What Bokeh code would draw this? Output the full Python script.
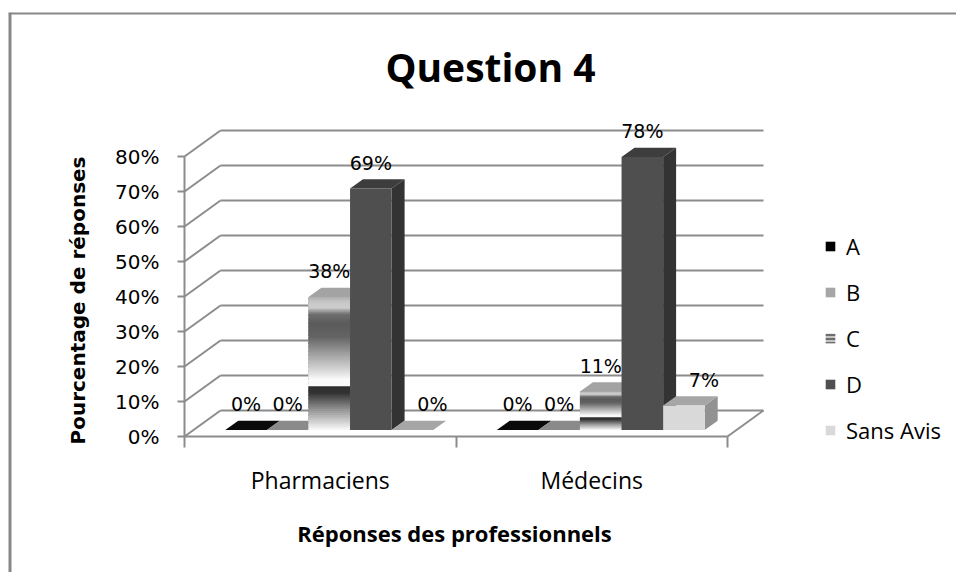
import math
import numpy as np
from bokeh.plotting import figure
from bokeh.models import FixedTicker, Legend, LegendItem, Range1d, Span
from bokeh.core.properties import value
from bokeh.embed import file_html
from bokeh.resources import INLINE

# ---------------- data ----------------
categories = ["Pharmaciens", "Médecins"]
series_names = ["A", "B", "C", "D", "Sans Avis"]
values_A = [0, 0]
values_B = [0, 0]
values_C = [38, 11]
values_D = [69, 78]
values_SA = [0, 7]
y_ticks = [0, 10, 20, 30, 40, 50, 60, 70, 80]
y_tick_labels = ["0%", "10%", "20%", "30%", "40%", "50%", "60%", "70%", "80%"]
title_text = "Question 4"
x_title = "Réponses des professionnels"
y_title = "Pourcentage de réponses"

series_values = [values_A, values_B, values_C, values_D, values_SA]

# ---------------- layout (page pixels) ----------------
W, H = 952, 560
PAGE_X0, PAGE_Y0 = 8, 12        # figure position on the page
X0_PX, Y0_PX = 184, 436         # page position of the axes origin
PX_X, PX_Y = 271.5, 3.5         # px per category unit / per percent


def ux(px):
    return (px - X0_PX) / PX_X


def uy(py):
    return (Y0_PX - py) / PX_Y


x_start, x_end = ux(PAGE_X0), ux(PAGE_X0 + W)
y_start, y_end = uy(PAGE_Y0 + H), uy(PAGE_Y0)

DX = 36 / PX_X        # depth offset of walls (x units)
DY = 26 / PX_Y        # depth offset of walls (y units)
F0, F1 = 0.25, 0.61   # bar front/back depth fractions
GAP = 0.117
BW = (1 - 2 * GAP) / len(series_names)
LABEL_OFF = 26 / PX_Y
SA_LABEL_SHIFT = 20 / PX_X
GRID = "#8c8c8c"
BORDER = "#878787"

front_colors = ["#000000", "#a6a6a6", "#c4c4c4", "#4f4f4f", "#d9d9d9"]
top_colors = ["#0a0a0a", "#8a8a8a", "#a3a3a3", "#3d3d3d", "#a6a6a6"]
side_colors = ["#000000", "#7a7a7a", "#808080", "#333333", "#929292"]

# chrome-like gradient of series C (fraction from top, grey level)
grad_pos = [0.0, 0.04, 0.08, 0.13, 0.20, 0.30, 0.45, 0.55, 0.62, 0.665, 0.67, 0.72, 0.85, 1.0]
grad_lvl = [175, 200, 205, 110, 90, 100, 170, 215, 250, 250, 45, 50, 150, 250]

p = figure(width=W, height=H, output_backend="svg", toolbar_location=None,
           x_range=Range1d(x_start, x_end), y_range=Range1d(y_start, y_end),
           min_border=0)
p.margin = (PAGE_Y0, 0, 0, PAGE_X0)
p.title.text = ""
p.title.visible = False
p.xgrid.visible = False
p.ygrid.visible = False
p.outline_line_color = None
p.background_fill_color = "white"
p.border_fill_color = "white"

# chart-area border (top and left edges visible as in the original)
p.add_layout(Span(location=y_end, dimension="width", line_color=BORDER, line_width=4))
p.add_layout(Span(location=x_start, dimension="height", line_color=BORDER, line_width=6))

# ---- walls / gridlines ----
n = len(categories)
back_y = [t + DY for t in y_ticks]
p.segment(x0=[DX] * len(y_ticks), y0=back_y, x1=[n + DX] * len(y_ticks), y1=back_y,
          line_color=GRID, line_width=2)
p.segment(x0=[0] * len(y_ticks), y0=y_ticks, x1=[DX] * len(y_ticks), y1=back_y,
          line_color=GRID, line_width=2)
p.segment(x0=[n], y0=[0], x1=[n + DX], y1=[DY], line_color=GRID, line_width=2)

# ---- bars ----
legend_renderers = []
for i, (name, vals) in enumerate(zip(series_names, series_values)):
    x0s = [j + GAP + i * BW for j in range(n)]
    x1s = [x + BW for x in x0s]
    sx, sy, tx, ty = [], [], [], []
    for x0, x1, v in zip(x0s, x1s, vals):
        sx.append([x1 + F0 * DX, x1 + F1 * DX, x1 + F1 * DX, x1 + F0 * DX])
        sy.append([F0 * DY, F1 * DY, v + F1 * DY, v + F0 * DY])
        tx.append([x0 + F0 * DX, x1 + F0 * DX, x1 + F1 * DX, x0 + F1 * DX])
        ty.append([v + F0 * DY, v + F0 * DY, v + F1 * DY, v + F1 * DY])
    p.patches(xs=sx, ys=sy, fill_color=side_colors[i], line_color=None)
    p.patches(xs=tx, ys=ty, fill_color=top_colors[i], line_color=None)
    left = [x + F0 * DX for x in x0s]
    right = [x + F0 * DX for x in x1s]
    bottom = [F0 * DY] * n
    top = [v + F0 * DY for v in vals]
    if name == "C":
        # legend swatch (striped), hidden beneath the gradient bands
        rl = p.quad(left=left, right=right, bottom=bottom, top=top, fill_color=front_colors[i],
                    hatch_pattern="horizontal_line", hatch_color="#505050",
                    hatch_scale=4, hatch_weight=1.5, line_color=None)
        bl, br, bb, bt, bc = [], [], [], [], []
        nb = 70
        for l, r, b, t in zip(left, right, bottom, top):
            h = t - b
            for k in range(nb):
                fa, fb = k / nb, (k + 1) / nb
                lvl = int(round(np.interp((fa + fb) / 2, grad_pos, grad_lvl)))
                bl.append(l); br.append(r)
                bt.append(t - fa * h)
                bb.append(max(b, t - fb * h - 0.3))
                bc.append("#%02x%02x%02x" % (lvl, lvl, lvl))
        p.quad(left=bl, right=br, bottom=bb, top=bt, fill_color=bc, line_color=None)
    else:
        rl = p.quad(left=left, right=right, bottom=bottom, top=top,
                    fill_color=front_colors[i], line_color=None)
    legend_renderers.append(rl)

# ---- data labels ----
lx, ly, lt = [], [], []
for i, (name, vals) in enumerate(zip(series_names, series_values)):
    for j, v in enumerate(vals):
        cx = j + GAP + i * BW + BW / 2 + F0 * DX
        if name == "Sans Avis":
            cx += SA_LABEL_SHIFT
        lx.append(cx)
        ly.append(v + F0 * DY + LABEL_OFF)
        lt.append(f"{v}%")
p.text(x=lx, y=ly, text=lt, text_font=value("DejaVu Sans"), text_font_size="19px",
       text_align="center", text_baseline="middle", text_color="#000000")

# ---- titles ----
p.text(x=[ux(490)], y=[uy(66)], text=[title_text], text_font=value("Open Sans"),
       text_font_style="bold", text_font_size="39px", text_align="center",
       text_baseline="middle", text_color="#000000")
p.text(x=[ux(77)], y=[uy(300)], text=[y_title], angle=math.pi / 2,
       text_font=value("DejaVu Sans"), text_font_style="bold", text_font_size="20px",
       text_align="center", text_baseline="middle", text_color="#000000")
p.text(x=[ux(454)], y=[uy(532)], text=[x_title], text_font=value("Open Sans"),
       text_font_style="bold", text_font_size="22px", text_align="center",
       text_baseline="middle", text_color="#000000")

# ---- axes (drawn at the data origin) ----
yax = p.yaxis[0]
yax.fixed_location = 0
yax.ticker = FixedTicker(ticks=y_ticks)
yax.major_label_overrides = {t: l for t, l in zip(y_ticks, y_tick_labels)}
yax.bounds = (y_ticks[0], y_ticks[-1])
yax.axis_line_color = GRID
yax.axis_line_width = 2
yax.major_tick_line_color = GRID
yax.major_tick_line_width = 2
yax.major_tick_out = 7
yax.major_tick_in = 0
yax.minor_tick_line_color = None
yax.major_label_standoff = 18
yax.major_label_text_font = "DejaVu Sans"
yax.major_label_text_font_size = "20px"
yax.major_label_text_color = "#000000"

xax = p.xaxis[0]
xax.fixed_location = 0
xax.ticker = FixedTicker(ticks=[j + 0.5 for j in range(n)], minor_ticks=list(range(n + 1)))
xax.major_label_overrides = {j + 0.5: c for j, c in enumerate(categories)}
xax.bounds = (0, n)
xax.axis_line_color = GRID
xax.axis_line_width = 2
xax.major_tick_line_color = None
xax.major_tick_out = 0
xax.major_tick_in = 0
xax.minor_tick_line_color = GRID
xax.minor_tick_line_width = 2
xax.minor_tick_out = 11
xax.minor_tick_in = 0
xax.major_label_standoff = 16
xax.major_label_text_font = "Open Sans"
xax.major_label_text_font_size = "23px"
xax.major_label_text_color = "#000000"

# ---- legend ----
legend = Legend(items=[LegendItem(label=nm, renderers=[r]) for nm, r in zip(series_names, legend_renderers)],
                location=(824 - PAGE_X0, PAGE_Y0 + H - 445), orientation="vertical",
                glyph_width=12, glyph_height=12, label_standoff=10, spacing=16,
                label_height=30, padding=0, margin=0,
                border_line_color=None, background_fill_alpha=0,
                label_text_font="Open Sans", label_text_font_size="22px", label_text_color="#000000")
p.add_layout(legend)

open("out.html", "w").write(file_html(p, INLINE))
